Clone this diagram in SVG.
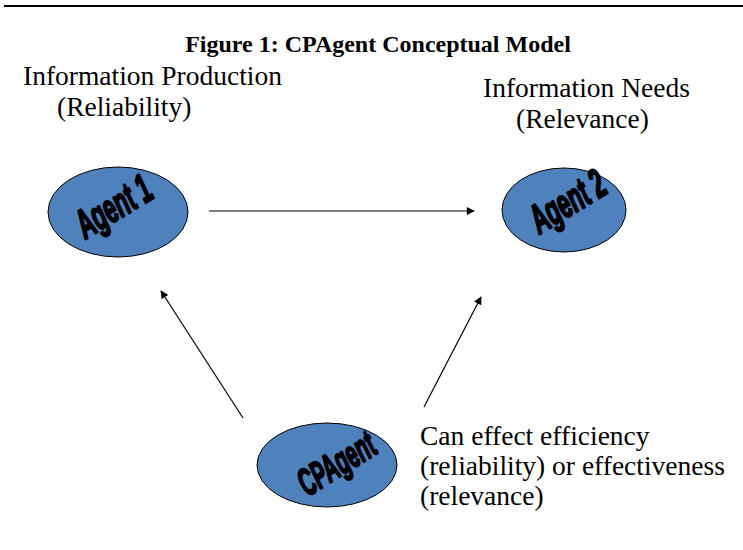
<svg xmlns="http://www.w3.org/2000/svg" width="743" height="550" viewBox="0 0 743 550">
<style>
.lbl{font-family:"Liberation Serif","Times New Roman",serif;font-size:27.5px;fill:#000}
.title{font-family:"Liberation Serif","Times New Roman",serif;font-size:24px;font-weight:bold;fill:#000}
.node{fill:#4f81bd;stroke:#000;stroke-width:1}
.ag{font-family:"Liberation Sans",Arial,sans-serif;font-size:32px;font-weight:bold;font-style:italic;fill:#000;stroke:#000;stroke-width:1.6;stroke-linejoin:round}
.conn{stroke:#000;stroke-width:1.2;fill:none;marker-end:url(#ah)}
</style>
<defs>
<marker id="ah" viewBox="0 0 10 10" refX="9" refY="5" markerWidth="9" markerHeight="8" markerUnits="userSpaceOnUse" orient="auto">
<path d="M0,0 L10,5 L0,10 z" fill="#000"/>
</marker>
</defs>
<rect width="743" height="550" fill="#fff"/>
<line x1="4" y1="6" x2="743" y2="6" stroke="#000" stroke-width="2"/>
<text class="title" x="378" y="52" text-anchor="middle">Figure 1: CPAgent Conceptual Model</text>
<text class="lbl" x="23" y="85">Information Production</text>
<text class="lbl" x="57" y="116">(Reliability)</text>
<text class="lbl" x="483" y="97">Information Needs</text>
<text class="lbl" x="516" y="128">(Relevance)</text>
<text class="lbl" x="420" y="445">Can effect efficiency</text>
<text class="lbl" x="420" y="475">(reliability) or effectiveness</text>
<text class="lbl" x="420" y="505">(relevance)</text>
<g id="agent1">
<ellipse class="node" cx="118" cy="212" rx="70" ry="45"/>
<text class="ag" transform="translate(115,209) rotate(-31) scale(0.7,1.28)" text-anchor="middle" dominant-baseline="middle">Agent 1</text>
</g>
<g id="agent2">
<ellipse class="node" cx="564" cy="210" rx="62" ry="42"/>
<text class="ag" transform="translate(569,204) rotate(-31) scale(0.7,1.28)" text-anchor="middle" dominant-baseline="middle">Agent 2</text>
</g>
<g id="cpagent">
<ellipse class="node" cx="327" cy="465" rx="70" ry="42"/>
<text class="ag" style="font-size:30px" transform="translate(338,466) rotate(-32) scale(0.68,1.28)" text-anchor="middle" dominant-baseline="middle">CPAgent</text>
</g>
<g id="connectors">
<line class="conn" x1="209" y1="211" x2="474" y2="211"/>
<line class="conn" x1="243" y1="418" x2="161" y2="291"/>
<line class="conn" x1="424" y1="407" x2="481" y2="297"/>
</g>
</svg>
